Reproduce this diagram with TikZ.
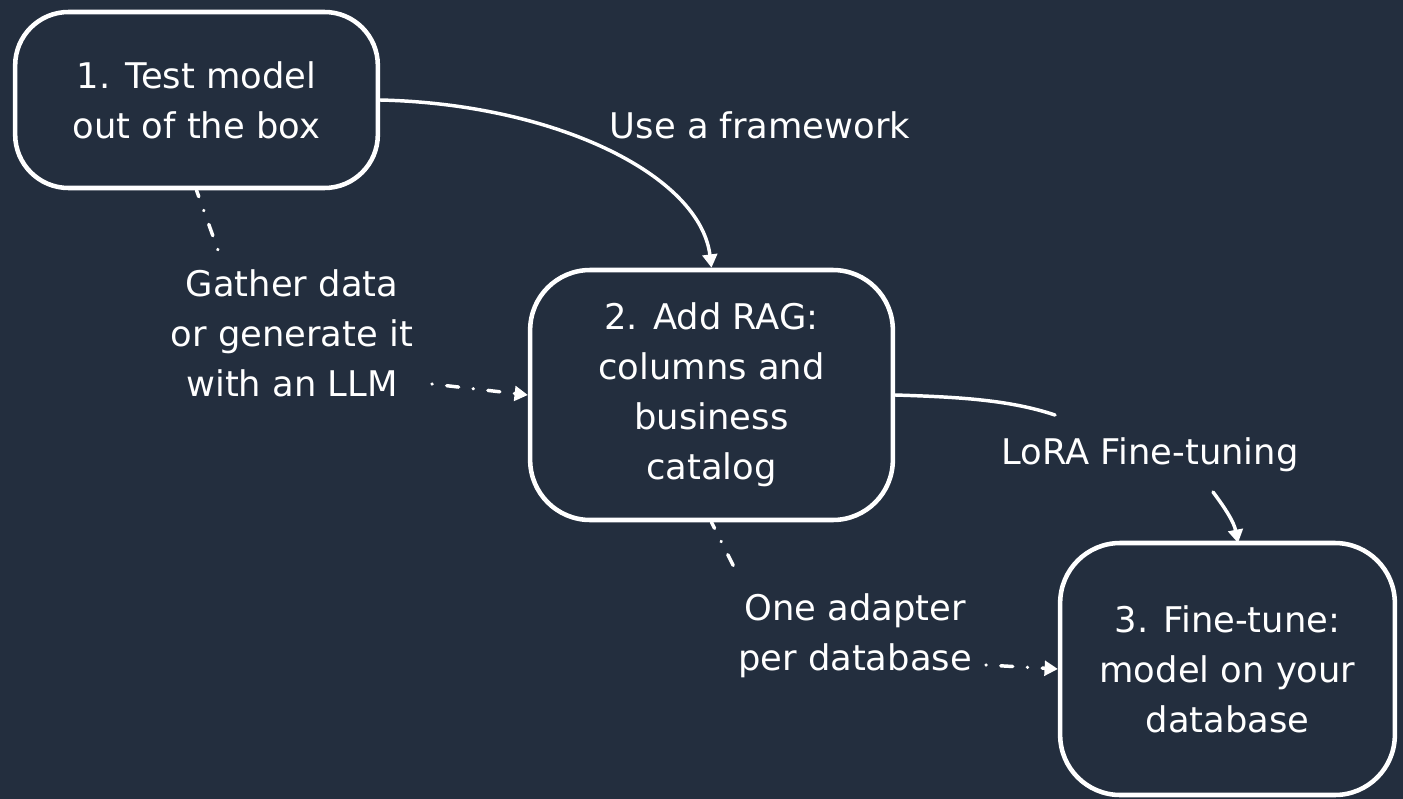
\documentclass[tikz,border=0pt]{standalone}
\usepackage{fontspec}
\setmainfont{DejaVu Sans}
\usetikzlibrary{arrows.meta}
\definecolor{bg}{RGB}{35,46,62}
\tikzset{
  stepbox/.style={draw=white, line width=3.4pt, rounded corners=40pt, text=white, align=center, inner sep=0pt},
  lbl/.style={text=white, align=center, inner sep=0pt},
  solidarrow/.style={draw=white, line width=2.6pt, line cap=round, -{Triangle[length=10pt,width=11pt]}},
  solidline/.style={draw=white, line width=2.6pt, line cap=round},
  dasharrow/.style={draw=white, line width=2.6pt, line cap=round, dash pattern=on 0.1pt off 11pt on 9pt off 11pt, -{Triangle[length=10pt,width=11pt]}},
  dashline/.style={draw=white, line width=2.6pt, line cap=round, dash pattern=on 0.1pt off 11pt on 9pt off 11pt, dash phase=15pt},
}
\begin{document}
\begin{tikzpicture}[x=0.75pt,y=-0.75pt, font=\fontsize{26.5}{37.5}\selectfont]
\fill[bg] (0,0) rectangle (1403,799);
\useasboundingbox (0,0) rectangle (1403,799);

\node[stepbox, minimum width=272pt, minimum height=132pt] (b1) at (196.5,100) {1. Test model\\out of the box};
\node[stepbox, minimum width=272pt, minimum height=187.5pt, rounded corners=45pt] (b2) at (711.5,395) {2. Add RAG:\\columns and\\business\\catalog};
\node[stepbox, minimum width=251pt, minimum height=189pt, rounded corners=45pt] (b3) at (1227.5,669) {3. Fine-tune:\\model on your\\database};

\node[lbl] (l1) at (760,125) {Use a framework};
\node[lbl] (l2) at (292,333) {Gather data\\or generate it\\with an LLM};
\node[lbl] (l3) at (1150,455) {LoRA Fine-tuning};
\node[lbl] (l4) at (855,636) {One adapter\\per database};

\coordinate (c2a) at (218,250);
\coordinate (c2b) at (432,384);
\coordinate (c3a) at (1055,415);
\coordinate (c3b) at (1213,492);
\coordinate (c3c) at (1238,543);
\coordinate (c4a) at (738,575);
\coordinate (c4b) at (986,665);

\draw[solidarrow] (b1.east) .. controls (555,104) and (700,175) .. (b2.north);
\draw[dashline] (b1.south) -- (c2a);
\draw[dasharrow] (c2b) -- (b2.west);
\draw[solidline] (b2.east) .. controls (960,397) and (1010,400) .. (c3a);
\draw[solidarrow] (c3b) .. controls (1225,508) and (1234,522) .. (c3c);
\draw[dashline] (b2.south) -- (c4a);
\draw[dasharrow] (c4b) -- (b3.west);
\end{tikzpicture}
\end{document}
